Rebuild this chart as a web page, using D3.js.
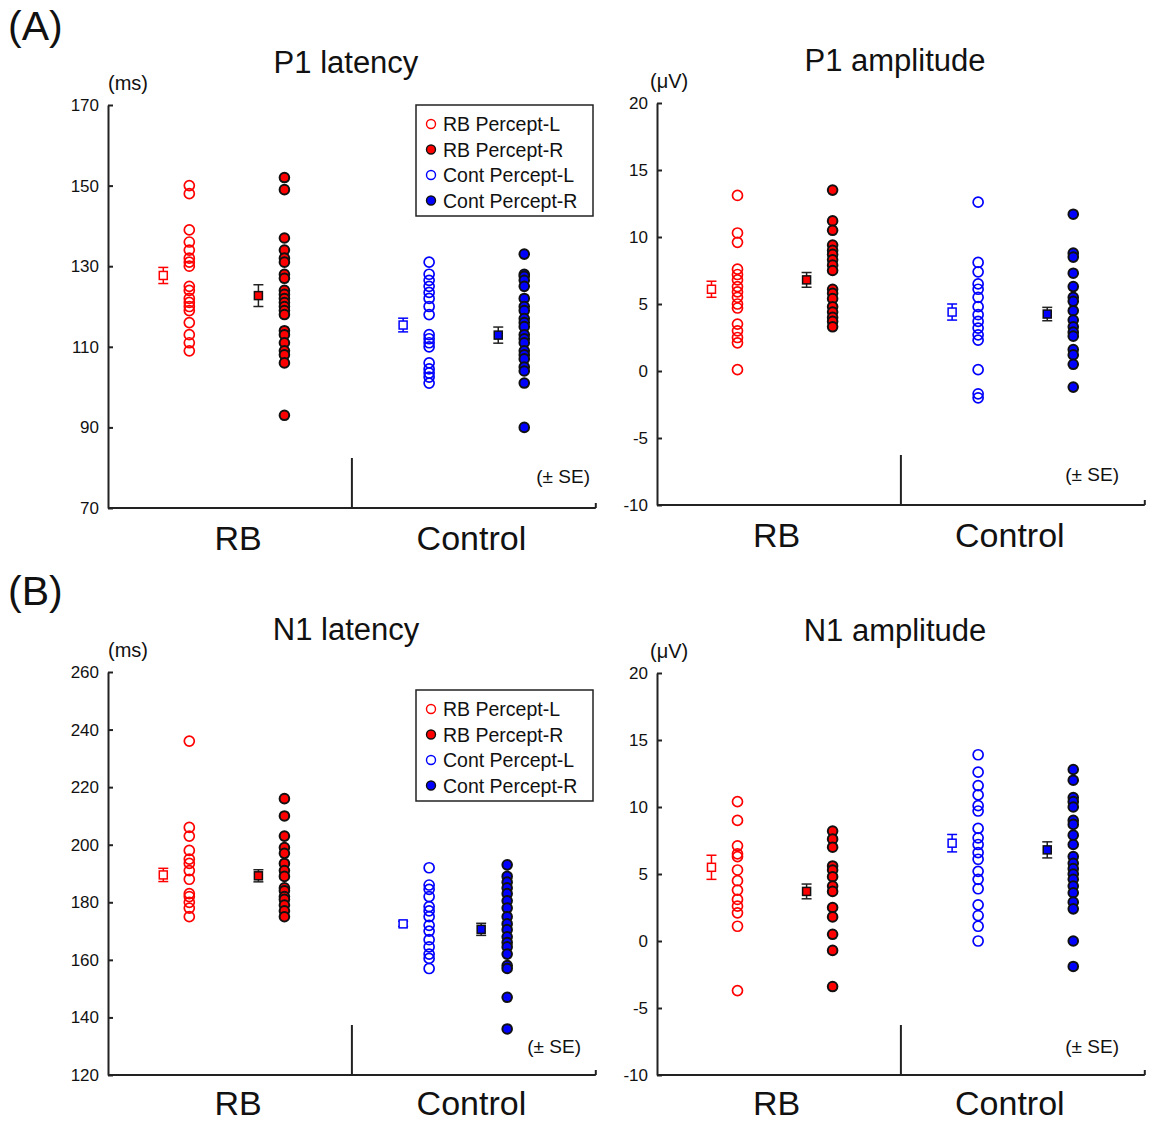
<!DOCTYPE html>
<html>
<head>
  <meta charset="utf-8">
  <title>P1 / N1 latency and amplitude</title>
  <style>
    body { margin: 0; background: #fff; }
    svg text { font-family: 'Liberation Sans', Arial, sans-serif; fill: #111; }
  </style>
</head>
<body>
  <div class='chart-container'></div>
  <script src="https://cdn.jsdelivr.net/npm/d3@7/dist/d3.min.js"></script>
  <script>
    // ---- values ----
    var groups = ['RB', 'Control'];
    var seriesNames = ['RB Percept-L', 'RB Percept-R', 'Cont Percept-L', 'Cont Percept-R'];

    // P1 latency (ms)
    var p1LatRbL = [150, 148, 139, 136, 134, 132, 131, 130, 125, 124, 122, 121, 120, 119, 116, 113, 111, 109];
    var p1LatRbR = [152, 149, 137, 134, 132, 131, 128, 127, 124, 123, 122, 121, 120, 119, 118, 114, 113, 111, 109, 108, 106, 93];
    var p1LatContL = [131, 128, 126.5, 125, 123.5, 122, 120, 118, 113, 112, 111, 110, 106, 104.5, 103.5, 102.5, 101];
    var p1LatContR = [133, 128, 127.5, 126.5, 125, 122, 120, 119, 117, 116, 115, 113, 112, 111, 109, 108, 107, 105, 104, 101, 90];
    var p1LatMean = [127.7, 122.7, 115.4, 112.9];
    var p1LatSE = [2.0, 2.7, 1.7, 2.0];

    // P1 amplitude (uV)
    var p1AmpRbL = [13.1, 10.3, 9.6, 7.6, 7.2, 6.8, 6.3, 5.9, 5.5, 5.0, 4.7, 3.5, 3.0, 2.5, 2.1, 0.1];
    var p1AmpRbR = [13.5, 11.2, 10.5, 9.4, 9.0, 8.7, 8.3, 7.9, 7.5, 6.1, 5.8, 5.4, 4.8, 4.4, 4.0, 3.7, 3.3];
    var p1AmpContL = [12.6, 8.1, 7.4, 6.5, 6.1, 5.5, 4.8, 4.2, 3.7, 3.2, 2.7, 2.3, 0.1, -1.7, -2.0];
    var p1AmpContR = [11.7, 8.8, 8.5, 7.3, 6.3, 5.5, 5.2, 4.5, 3.8, 3.3, 2.9, 2.6, 1.6, 1.2, 0.5, -1.2];
    var p1AmpMean = [6.1, 6.8, 4.4, 4.25];
    var p1AmpSE = [0.6, 0.55, 0.6, 0.5];

    // N1 latency (ms)
    var n1LatRbL = [236, 206, 203, 198, 195, 193.5, 191, 188, 183, 182, 180, 178, 175];
    var n1LatRbR = [216, 210, 203, 199, 197, 193.5, 191, 189, 185, 184, 182, 181, 179, 177, 175];
    var n1LatContL = [192, 186, 184.5, 182, 178.5, 177, 175, 172, 170, 167, 164.5, 162, 160.5, 157];
    var n1LatContR = [193, 189, 187, 185, 183, 180.5, 178, 175, 172.5, 170.5, 168, 166, 164.5, 162, 158, 157, 147, 136];
    var n1LatMean = [189.5, 189.2, 172.5, 170.6];
    var n1LatSE = [2.3, 2.1, 0.9, 2.1];

    // N1 amplitude (uV)
    var n1AmpRbL = [10.4, 9.0, 7.1, 6.5, 6.3, 5.3, 4.5, 3.8, 3.1, 2.6, 2.1, 1.1, -3.7];
    var n1AmpRbR = [8.2, 7.6, 7.0, 5.6, 5.3, 4.8, 4.1, 3.7, 2.5, 1.8, 0.5, -0.7, -3.4];
    var n1AmpContL = [13.9, 12.6, 11.6, 10.9, 10.1, 9.7, 8.4, 7.7, 7.2, 6.6, 6.1, 5.2, 4.6, 3.9, 2.7, 1.9, 1.1, 0];
    var n1AmpContR = [12.8, 12.0, 10.7, 10.4, 10.0, 9.0, 8.7, 7.9, 7.2, 6.3, 5.8, 5.4, 5.0, 4.6, 4.1, 3.6, 2.9, 2.4, 0, -1.9];
    var n1AmpMean = [5.5, 3.7, 7.3, 6.8];
    var n1AmpSE = [0.9, 0.55, 0.65, 0.6];

    // ---- layout ----
    var width = 1152, height = 1123;
    var slot = 81.3;            // px per x unit, 3 units per group
    var meanShift = 0.32;        // mean marker sits left of its column
    var colors = ['#ff0000', '#ff0000', '#0000ff', '#0000ff'];
    var axisColor = '#222';

    var panels = [
      { title: 'P1 latency', unit: '(ms)', unitDx: 0, left: 108, top: 105, bottom: 508, domain: [70, 170], step: 20,
        series: [p1LatRbL, p1LatRbR, p1LatContL, p1LatContR], mean: p1LatMean, se: p1LatSE,
        cols: [1.0, 2.17, 3.95, 5.12], catX: [1.6, 4.47], seX: 590, seY: 483, legend: true },
      { title: 'P1 amplitude', unit: '(\u03bcV)', unitDx: -7, left: 657, top: 103, bottom: 505, domain: [-10, 20], step: 5,
        series: [p1AmpRbL, p1AmpRbR, p1AmpContL, p1AmpContR], mean: p1AmpMean, se: p1AmpSE,
        cols: [0.99, 2.16, 3.95, 5.12], catX: [1.47, 4.34], seX: 1119, seY: 481, legend: false },
      { title: 'N1 latency', unit: '(ms)', unitDx: 0, left: 108, top: 672, bottom: 1075, domain: [120, 260], step: 20,
        series: [n1LatRbL, n1LatRbR, n1LatContL, n1LatContR], mean: n1LatMean, se: n1LatSE,
        cols: [1.0, 2.17, 3.95, 4.91], catX: [1.6, 4.47], seX: 581, seY: 1053, legend: true },
      { title: 'N1 amplitude', unit: '(\u03bcV)', unitDx: -7, left: 657, top: 673, bottom: 1075, domain: [-10, 20], step: 5,
        series: [n1AmpRbL, n1AmpRbR, n1AmpContL, n1AmpContR], mean: n1AmpMean, se: n1AmpSE,
        cols: [0.99, 2.16, 3.95, 5.12], catX: [1.47, 4.34], seX: 1119, seY: 1053, legend: false }
    ];

    var svg = d3.select('.chart-container').append('svg')
      .attr('width', width)
      .attr('height', height);

    svg.append('text').attr('x', 8).attr('y', 40).style('font-size', '41px').text('(A)');
    svg.append('text').attr('x', 8).attr('y', 605).style('font-size', '41px').text('(B)');

    function drawPanel(p) {
      var g = svg.append('g');

      var x = d3.scaleLinear()
        .domain([0, 6])
        .range([p.left, p.left + 6 * slot]);

      var y = d3.scaleLinear()
        .domain(p.domain)
        .range([p.bottom, p.top]);

      // y axis, ticks point inward, plain hyphen for negatives
      var yAxis = d3.axisLeft(y)
        .tickValues(d3.range(p.domain[0], p.domain[1] + p.step / 2, p.step))
        .tickFormat(function (d) { return String(d); })
        .tickSizeInner(-5)
        .tickSizeOuter(0)
        .tickPadding(9);

      var ax = g.append('g')
        .attr('transform', 'translate(' + p.left + ',0)')
        .call(yAxis);
      ax.select('.domain').attr('stroke', axisColor).attr('stroke-width', 2);
      ax.selectAll('.tick line').attr('stroke', axisColor).attr('stroke-width', 2);
      ax.selectAll('.tick text')
        .style('font-family', "'Liberation Sans', Arial, sans-serif")
        .style('font-size', '17px')
        .attr('fill', '#222');

      // x axis line, end tick and group divider
      g.append('line')
        .attr('x1', x(0)).attr('x2', x(6))
        .attr('y1', p.bottom).attr('y2', p.bottom)
        .attr('stroke', axisColor).attr('stroke-width', 2);
      g.append('line')
        .attr('x1', x(6)).attr('x2', x(6))
        .attr('y1', p.bottom).attr('y2', p.bottom - 5)
        .attr('stroke', axisColor).attr('stroke-width', 2);
      g.append('line')
        .attr('x1', x(3)).attr('x2', x(3))
        .attr('y1', p.bottom).attr('y2', p.bottom - 50)
        .attr('stroke', axisColor).attr('stroke-width', 2);

      groups.forEach(function (name, i) {
        g.append('text')
          .attr('x', x(p.catX[i]))
          .attr('y', Math.min(p.bottom + 42, 1115))
          .attr('text-anchor', 'middle')
          .style('font-size', '34px')
          .text(name);
      });

      g.append('text')
        .attr('x', p.left + 238)
        .attr('y', p.top - 32)
        .attr('text-anchor', 'middle')
        .style('font-size', '31px')
        .text(p.title);

      g.append('text')
        .attr('x', p.left + p.unitDx)
        .attr('y', p.top - 15)
        .style('font-size', '20px')
        .text(p.unit);

      g.append('text')
        .attr('x', p.seX)
        .attr('y', p.seY)
        .attr('text-anchor', 'end')
        .style('font-size', '19px')
        .text('(\u00b1 SE)');

      // individual points
      p.series.forEach(function (vals, i) {
        var filled = i % 2 === 1;
        g.append('g').selectAll('circle')
          .data(vals)
          .join('circle')
          .attr('cx', x(p.cols[i]))
          .attr('cy', function (d) { return y(d); })
          .attr('r', filled ? 4.8 : 5)
          .attr('fill', filled ? colors[i] : 'none')
          .attr('stroke', filled ? '#111' : colors[i])
          .attr('stroke-width', filled ? 2 : 1.7);
      });

      // means with SE bars
      p.mean.forEach(function (m, i) {
        var filled = i % 2 === 1;
        var cx = x(p.cols[i] - meanShift);
        var barColor = filled ? '#222' : colors[i];
        var se = p.se[i];
        g.append('line')
          .attr('x1', cx).attr('x2', cx)
          .attr('y1', y(m - se)).attr('y2', y(m + se))
          .attr('stroke', barColor).attr('stroke-width', 1.5);
        [m - se, m + se].forEach(function (v) {
          g.append('line')
            .attr('x1', cx - 5).attr('x2', cx + 5)
            .attr('y1', y(v)).attr('y2', y(v))
            .attr('stroke', barColor).attr('stroke-width', 1.5);
        });
        g.append('rect')
          .attr('x', cx - 4).attr('y', y(m) - 4)
          .attr('width', 8).attr('height', 8)
          .attr('fill', filled ? colors[i] : '#fff')
          .attr('stroke', filled ? '#111' : colors[i])
          .attr('stroke-width', 1.5);
      });

      if (p.legend) {
        var lx = p.left + 308, ly = p.top + (p.top > 600 ? 18 : 0);
        var lg = g.append('g').attr('transform', 'translate(' + lx + ',' + ly + ')');
        lg.append('rect')
          .attr('width', 177).attr('height', 111)
          .attr('fill', '#fff')
          .attr('stroke', '#222').attr('stroke-width', 1.5);
        seriesNames.forEach(function (name, i) {
          var filled = i % 2 === 1;
          var row = lg.append('g').attr('transform', 'translate(0,' + (19 + i * 25.5) + ')');
          row.append('circle')
            .attr('cx', 15).attr('cy', 0).attr('r', 4.5)
            .attr('fill', filled ? colors[i] : 'none')
            .attr('stroke', filled ? '#111' : colors[i])
            .attr('stroke-width', 1.4);
          row.append('text')
            .attr('x', 27).attr('y', 7)
            .style('font-size', '19.5px')
            .text(name);
        });
      }
    }

    panels.forEach(drawPanel);
  </script>
</body>
</html>
